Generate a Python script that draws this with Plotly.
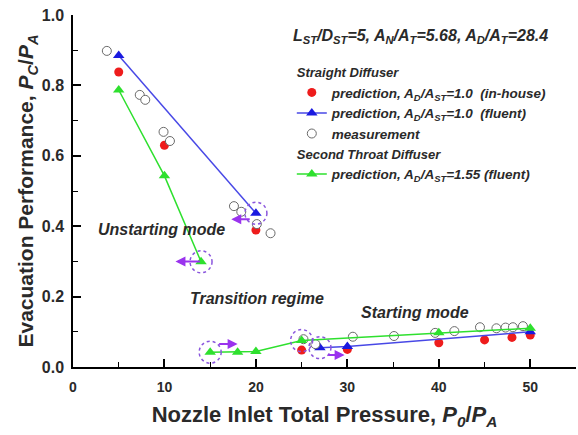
import plotly.graph_objects as go

# ---------------- data ----------------
# Straight diffuser, in-house prediction (red)
inh_x = [5, 10, 20, 25, 30, 40, 45, 48, 50]
inh_y = [0.838, 0.630, 0.389, 0.048, 0.050, 0.069, 0.077, 0.084, 0.091]

# Straight diffuser, fluent prediction (blue) - None splits modes
flu_x = [5, 20, None, 27, 30, 50]
flu_y = [0.885, 0.437, None, 0.055, 0.058, 0.100]

# Measurement (open circles)
mea_x = [3.7, 7.3, 7.9, 9.9, 10.6, 17.6, 18.4, 20.1, 21.6,
         25.2, 26.5, 30.6, 35.1, 39.6, 41.7, 44.5, 46.3, 47.3, 48.1, 49.2]
mea_y = [0.898, 0.773, 0.759, 0.668, 0.642, 0.457, 0.441, 0.406, 0.380,
         0.079, 0.065, 0.086, 0.088, 0.097, 0.102, 0.113, 0.110, 0.112, 0.113, 0.116]

# Second throat diffuser, fluent prediction (green)
st_x = [5, 10, 14, None, 15, 18, 20, 25, 40, 50]
st_y = [0.787, 0.543, 0.299, None, 0.042, 0.042, 0.044, 0.075, 0.097, 0.110]

# hysteresis arrows (head x, head y, tail pixel offset)
arr_x = [17.3, 11.2, 18.0, 29.7]
arr_y = [0.420, 0.300, 0.065, 0.034]
arr_dx = [20, 26, -20, -18]

# dotted circles around transition points
ring_x = [20, 14, 15, 27, 25]
ring_y = [0.437, 0.299, 0.042, 0.055, 0.075]

x_ticks = [0, 10, 20, 30, 40, 50]
y_ticks = [0.0, 0.2, 0.4, 0.6, 0.8, 1.0]

FONT = "Liberation Sans, Arial, sans-serif"
TXT = "#2a2a2a"
RED = "#ee1c1c"
BLUE = "#1a1ae0"
GREEN = "#2ee02e"
PURPLE = "#9a33ee"

fig = go.Figure()

fig.add_trace(go.Scatter(
    x=inh_x, y=inh_y, mode="markers",
    marker=dict(symbol="circle", size=9, color=RED, line=dict(width=0)),
    name="<b><i>prediction, A<sub>D</sub>/A<sub>ST</sub>=1.0  (in-house)</i></b>",
    legendgroup="sd", legendgrouptitle=dict(text="<b><i>Straight Diffuser</i></b>",
                                            font=dict(size=13, color=TXT, family=FONT)),
))
fig.add_trace(go.Scatter(
    x=flu_x, y=flu_y, mode="lines+markers",
    line=dict(color="#4848e6", width=1.5),
    marker=dict(symbol="triangle-up", size=10, color=BLUE),
    name="<b><i>prediction, A<sub>D</sub>/A<sub>ST</sub>=1.0  (fluent)</i></b>",
    legendgroup="sd", connectgaps=False,
))
fig.add_trace(go.Scatter(
    x=mea_x, y=mea_y, mode="markers",
    marker=dict(symbol="circle", size=9, color="white", line=dict(color="#6a6a6a", width=1)),
    name="<b><i>measurement</i></b>",
    legendgroup="sd",
))
fig.add_trace(go.Scatter(
    x=st_x, y=st_y, mode="lines+markers",
    line=dict(color=GREEN, width=1.5),
    marker=dict(symbol="triangle-up", size=10, color=GREEN),
    name="<b><i>prediction, A<sub>D</sub>/A<sub>ST</sub>=1.55 (fluent)</i></b>",
    legendgroup="std", connectgaps=False,
    legendgrouptitle=dict(text="<b><i>Second Throat Diffuser</i></b>",
                          font=dict(size=13, color=TXT, family=FONT)),
))

for cx, cy in zip(ring_x, ring_y):
    fig.add_shape(type="circle", xref="x", yref="y", xsizemode="pixel", ysizemode="pixel",
                  xanchor=cx, yanchor=cy, x0=-11, x1=11, y0=-11, y1=11,
                  line=dict(color="#8a55dd", width=1.5, dash="dot"), layer="above")

for hx, hy, dx in zip(arr_x, arr_y, arr_dx):
    fig.add_annotation(x=hx, y=hy, xref="x", yref="y", ax=dx, ay=0, text="",
                       showarrow=True, arrowhead=2, arrowsize=1, arrowwidth=2,
                       arrowcolor=PURPLE)

labels = [
    (9.7, 0.392, "Unstarting mode"),
    (20.1, 0.196, "Transition regime"),
    (37.4, 0.154, "Starting mode"),
]
for lx, ly, t in labels:
    fig.add_annotation(x=lx, y=ly, xref="x", yref="y", text="<b><i>" + t + "</i></b>",
                       showarrow=False, font=dict(size=16, color=TXT, family=FONT))

fig.add_annotation(
    x=0.434, y=0.94, xref="paper", yref="paper", xanchor="left", yanchor="middle",
    text="<b><i>L<sub>ST</sub>/D<sub>ST</sub>=5, A<sub>N</sub>/A<sub>T</sub>=5.68, "
         "A<sub>D</sub>/A<sub>T</sub>=28.4</i></b>",
    showarrow=False, font=dict(size=16, color=TXT, family=FONT))

fig.update_layout(
    width=578, height=435,
    margin=dict(l=73, r=2, t=15, b=68),
    paper_bgcolor="white", plot_bgcolor="white",
    font=dict(family=FONT, color=TXT),
    showlegend=True,
    legend=dict(x=0.435, y=0.88, xanchor="left", yanchor="top",
                bgcolor="rgba(0,0,0,0)", font=dict(size=13.5, color=TXT, family=FONT),
                traceorder="grouped", tracegroupgap=0, itemwidth=30),
    xaxis=dict(range=[0, 55], tickvals=x_ticks, ticktext=[f"<b>{v}</b>" for v in x_ticks],
               showline=True, linecolor="black", linewidth=1.5,
               ticks="inside", ticklen=8, tickwidth=1.5, tickcolor="black",
               minor=dict(dtick=5, tick0=0, ticks="inside", ticklen=5, tickwidth=1.2, tickcolor="black"),
               showgrid=False, zeroline=False, ticklabelstandoff=6,
               tickfont=dict(size=14, color=TXT, family=FONT),
               title=dict(text="<b>Nozzle Inlet Total Pressure, <i>P<sub>0</sub></i>/<i>P<sub>A</sub></i></b>",
                          font=dict(size=22, color=TXT, family=FONT), standoff=13)),
    yaxis=dict(range=[0, 1.0], tickvals=y_ticks, ticktext=[f"<b>{v:.1f}</b>" for v in y_ticks],
               showline=True, linecolor="black", linewidth=1.5,
               ticks="inside", ticklen=8, tickwidth=1.5, tickcolor="black",
               minor=dict(dtick=0.1, tick0=0, ticks="inside", ticklen=5, tickwidth=1.2, tickcolor="black"),
               showgrid=False, zeroline=False, ticklabelstandoff=4,
               tickfont=dict(size=16, color=TXT, family=FONT),
               title=dict(text="<b>Evacuation Performance, <i>P<sub>C</sub></i>/<i>P<sub>A</sub></i></b>",
                          font=dict(size=21, color=TXT, family=FONT), standoff=2)),
)

fig.write_html("out.html")
